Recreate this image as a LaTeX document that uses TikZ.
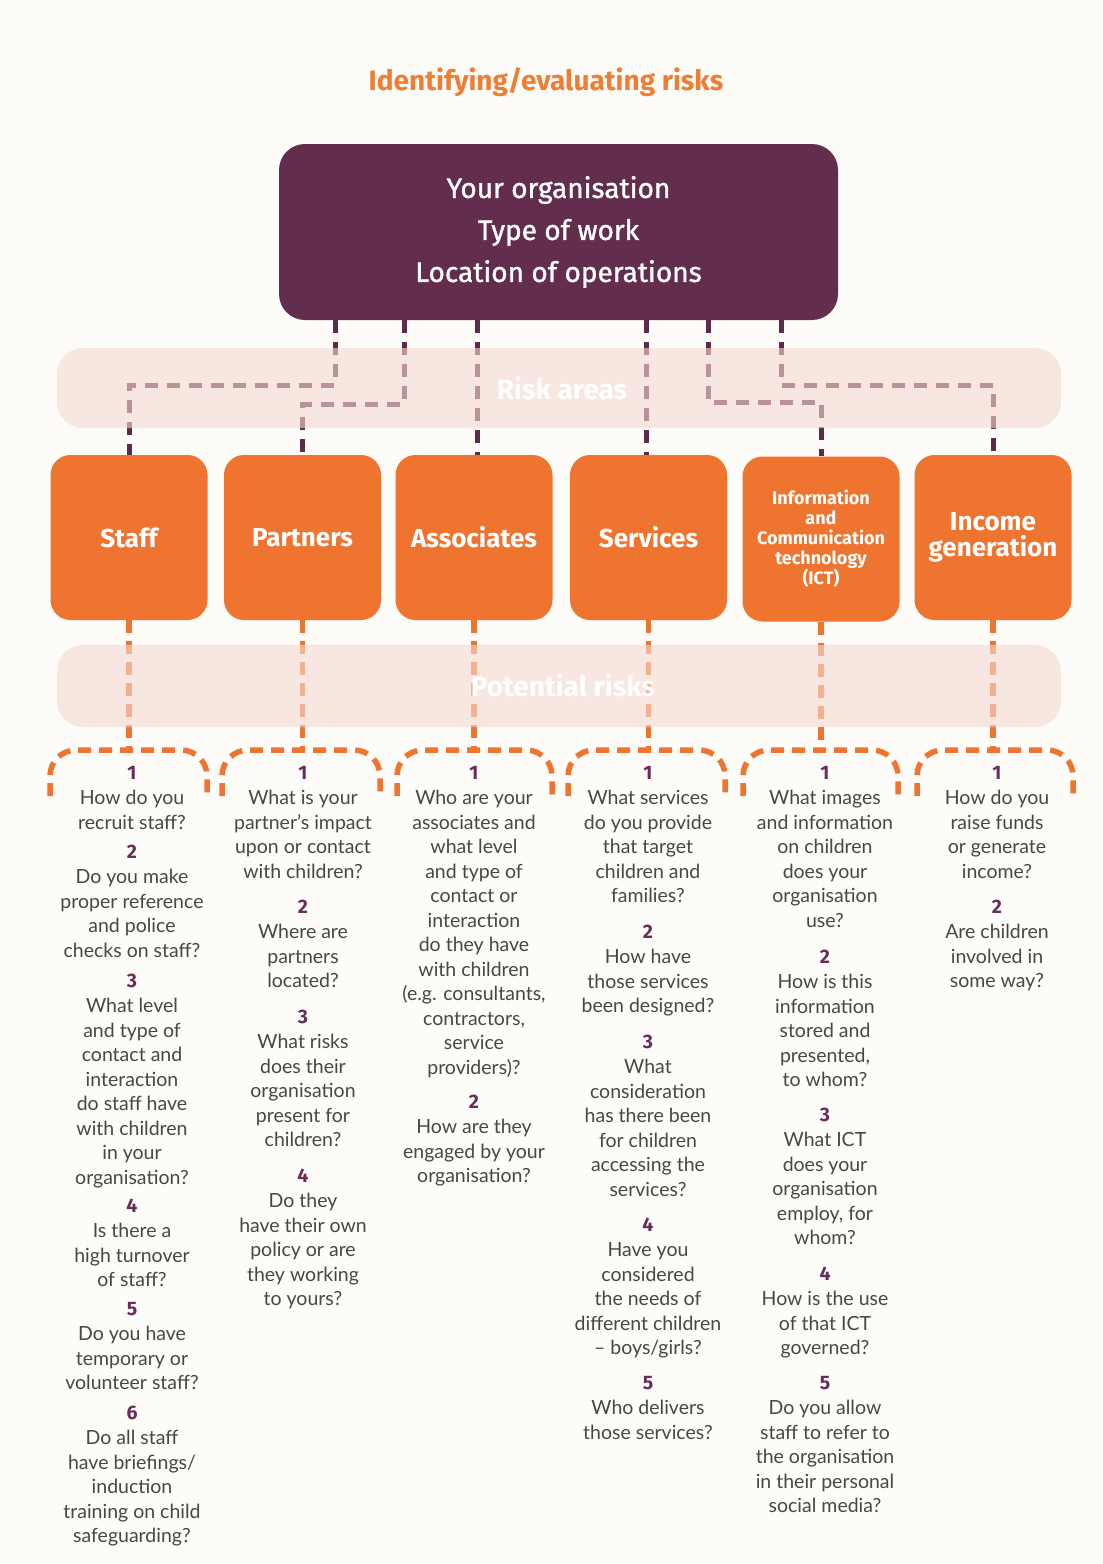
\documentclass[tikz,border=0pt]{standalone}
\usepackage{fontspec}
\setmainfont{Lato}
\newfontfamily\headfont{Fira Sans}
\newfontfamily\headmed[FakeBold=1.2]{Fira Sans}
\definecolor{bgcol}{HTML}{FDFCF9}
\definecolor{orgpurple}{HTML}{632D4E}
\definecolor{dashpurple}{HTML}{5E2A4B}
\definecolor{boxorange}{HTML}{EE7430}
\definecolor{titleorange}{HTML}{EF7D34}
\definecolor{bandpink}{RGB}{245,218,208}
\definecolor{numpurple}{HTML}{6A2C5B}
\definecolor{txtgray}{HTML}{474747}
\newcommand\qblock[5]{%
  \node[numst] (#1n) at (#2,{#3+4}) {#4};
  \foreach \t [count=\i] in {#5} {
    \node[txt] (#1-\i) at (#2, {#3+4.5+24.5*\i}) {\t};
  }
}
\begin{document}
\begin{tikzpicture}[x=1pt,y=-1pt,
  obox/.style={fill=boxorange, rounded corners=20pt, minimum width=157pt, minimum height=165pt,
    text=white, font=\headfont\bfseries\fontsize{26}{30}\selectfont, align=center, inner sep=0pt},
  pbox/.style={fill=orgpurple, rounded corners=26pt, minimum width=559pt, minimum height=176pt,
    text=white, font=\headmed\fontsize{28}{42}\selectfont, align=center, inner sep=0pt},
  pdash/.style={draw=dashpurple, line width=5pt, dash pattern=on 13pt off 9pt},
  odash/.style={draw=boxorange, line width=5.5pt, dash pattern=on 13pt off 8pt},
  band/.style={fill=bandpink, fill opacity=0.6, rounded corners=26pt},
  bandtxt/.style={text=white, font=\headfont\bfseries\fontsize{28}{32}\selectfont, inner sep=0pt},
  txt/.style={text=txtgray, font=\fontsize{19.5}{23}\selectfont, anchor=mid, inner sep=0pt},
  numst/.style={text=numpurple, font=\headfont\bfseries\fontsize{19.5}{22}\selectfont, anchor=mid, inner sep=0pt}
]
\useasboundingbox (0,0) rectangle (1103,1564);
\fill[bgcol] (0,0) rectangle (1103,1564);

% title
\node[text=titleorange, font=\headfont\bfseries\fontsize{28}{32}\selectfont, inner sep=0pt] (title) at (546,82) {Identifying/evaluating risks};

% top box
\node[pbox] (org) at (558.5,232) {Your organisation\\Type of work\\Location of operations};

% risk area boxes
\node[obox] (staff) at (129,537.5) {Staff};
\node[obox] (partners) at (302.5,537.5) {Partners};
\node[obox] (assoc) at (474,537.5) {Associates};
\node[obox] (services) at (648.5,537.5) {Services};
\node[obox, font=\headfont\bfseries\fontsize{18}{20}\selectfont] (ict) at (821,539) {Information\\and\\Communication\\technology\\(ICT)};
\node[obox, font=\headfont\bfseries\fontsize{26}{26}\selectfont] (income) at (993,537.5) {Income\\generation};

% purple connectors
\draw[pdash] ([xshift=-223.5pt]org.south) -- ++(0,65) -| (staff.north);
\draw[pdash] ([xshift=-154.5pt]org.south) -- ++(0,84) -| (partners.north);
\draw[pdash] ([xshift=-81.5pt]org.south) -- ([xshift=-81.5pt]org.south |- assoc.north);
\draw[pdash] ([xshift=87.5pt]org.south) -- ([xshift=87.5pt]org.south |- services.north);
\draw[pdash] ([xshift=149.5pt]org.south) -- ++(0,82) -| (ict.north);
\draw[pdash] ([xshift=222.5pt]org.south) -- ++(0,65) -| (income.north);

% bracket tops
\coordinate (b1) at (129,750);
\coordinate (b2) at (302.5,750);
\coordinate (b3) at (474,750);
\coordinate (b4) at (648.5,750);
\coordinate (b5) at (821,750);
\coordinate (b6) at (993,750);

% orange connectors
\draw[odash] (staff.south) -- (b1);
\draw[odash] (partners.south) -- (b2);
\draw[odash] (assoc.south) -- (b3);
\draw[odash] (services.south) -- (b4);
\draw[odash] (ict.south) -- (b5);
\draw[odash] (income.south) -- (b6);

% brackets
\foreach \xa/\xb in {50/207, 222/380, 397/552, 568/725, 743/898, 917/1073} {
  \draw[odash, rounded corners=26pt] (\xa,796) -- (\xa,750) -- (\xb,750) -- (\xb,796);
}

% bands
\fill[band] (57,348) rectangle (1061,428);
\fill[band] (57,645) rectangle (1061,727);
\node[bandtxt] (risklbl) at (562,388) {Risk areas};
\node[bandtxt] (potlbl) at (563,685) {Potential risks};

% questions
\qblock{sa}{132}{773}{1}{How do you, recruit staff?}
\qblock{sb}{132}{852}{2}{Do you make, proper reference, and police, checks on staff?}
\qblock{sc}{132}{981}{3}{What level, and type of, contact and, interaction, do staff have, with children, in your, organisation?}
\qblock{sd}{132}{1206}{4}{Is there a, high turnover, of staff?}
\qblock{se}{132}{1309}{5}{Do you have, temporary or, volunteer staff?}
\qblock{sf}{132}{1413}{6}{Do all staff, have briefings/, induction, training on child, safeguarding?}

\qblock{pa}{303}{773}{1}{What is your, partner’s impact, upon or contact, with children?}
\qblock{pb}{303}{907}{2}{Where are, partners, located?}
\qblock{pc}{303}{1017}{3}{What risks, does their, organisation, present for, children?}
\qblock{pd}{303}{1176}{4}{Do they, have their own, policy or are, they working, to yours?}

\qblock{aa}{474}{773}{1}{Who are your, associates and, what level, and type of, contact or, interaction, do they have, with children, {(e.g. consultants,}, {contractors,}, service, providers)?}
\qblock{ab}{474}{1102}{2}{How are they, engaged by your, organisation?}

\qblock{va}{648}{773}{1}{What services, do you provide, that target, children and, families?}
\qblock{vb}{648}{932}{2}{How have, those services, been designed?}
\qblock{vc}{648}{1042}{3}{What, consideration, has there been, for children, accessing the, services?}
\qblock{vd}{648}{1225}{4}{Have you, considered, the needs of, different children, – boys/girls?}
\qblock{ve}{648}{1383}{5}{Who delivers, those services?}

\qblock{ia}{825}{773}{1}{What images, and information, on children, does your, organisation, use?}
\qblock{ib}{825}{957}{2}{How is this, information, stored and, {presented,}, to whom?}
\qblock{ic}{825}{1115}{3}{What ICT, does your, organisation, {employ, for}, whom?}
\qblock{id}{825}{1274}{4}{How is the use, of that ICT, governed?}
\qblock{ie}{825}{1383}{5}{Do you allow, staff to refer to, the organisation, in their personal, social media?}

\qblock{ga}{997}{773}{1}{How do you, raise funds, or generate, income?}
\qblock{gb}{997}{907}{2}{Are children, involved in, some way?}
\end{tikzpicture}
\end{document}
